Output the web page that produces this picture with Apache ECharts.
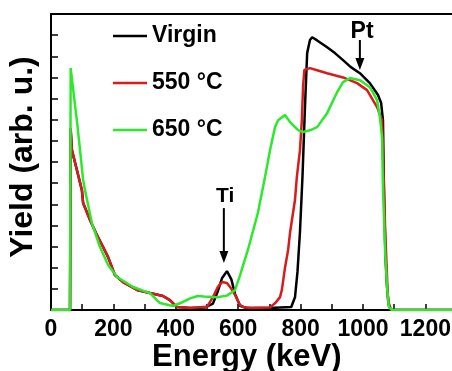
<!DOCTYPE html>
<html>
<head>
<meta charset="utf-8">
<script src="https://cdn.jsdelivr.net/npm/echarts@6/dist/echarts.min.js"></script>
<style>
html,body{margin:0;padding:0;background:#fff;}
#c{width:452px;height:371px;}
</style>
</head>
<body>
<div id="c"></div>
<script>
// Series names
const seriesNames = ['Virgin', '550 °C', '650 °C'];

// [Energy (keV), Yield (arb. u.)]
const virginData = [[0,0],[61,0],[63,8.55],[67,7.56],[83,6.62],[99,5.67],[103,5.06],[125,4.26],[147,3.55],[167,2.98],[183,2.5],[205,1.65],[231,1.32],[276,0.95],[317,0.8],[359,0.66],[381,0.47],[404,0.14],[446,0.09],[494,0.12],[519,0.3],[535,0.9],[548,1.5],[564,1.84],[578,1.45],[590,0.75],[606,0.2],[625,0.1],[700,0.1],[770,0.14],[782,0.6],[790,1.8],[798,3.7],[806,6.3],[814,9.6],[821,12.15],[830,12.77],[837,12.9],[853,12.75],[885,12.43],[910,12.15],[936,11.82],[960,11.5],[990,11.2],[1022,10.73],[1048,10.17],[1058,9.8],[1064,8.98],[1067,5.82],[1072,2.5],[1077,1.09],[1083,0.2],[1090,0],[1300,0]];

const c550Data = [[0,0],[61,0],[63,8.6],[67,7.56],[83,6.62],[99,5.67],[103,5.06],[125,4.26],[147,3.55],[167,2.98],[183,2.5],[205,1.65],[231,1.32],[276,0.95],[317,0.8],[359,0.66],[381,0.47],[404,0.14],[446,0.09],[500,0.15],[519,0.61],[535,1.1],[548,1.32],[564,1.28],[578,1.0],[590,0.71],[605,0.25],[615,0.14],[640,0.09],[702,0.12],[720,0.35],[734,0.61],[740,0.95],[750,2.0],[760,2.84],[766,3.64],[782,5.2],[788,6.3],[798,7.56],[804,8.98],[808,10.6],[812,11.35],[830,11.44],[850,11.35],[885,11.2],[936,11.0],[981,10.73],[1013,10.4],[1045,9.6],[1061,8.98],[1064,7.42],[1071,3.8],[1080,0.47],[1090,0],[1300,0]];

const c650Data = [[0,0],[61,0],[63,11.44],[85,8.7],[103,6.15],[109,5.67],[120,4.9],[131,4.11],[157,2.98],[183,2.13],[212,1.56],[263,1.09],[317,0.8],[349,0.33],[391,0.19],[423,0.38],[446,0.55],[470,0.66],[490,0.64],[532,0.6],[564,0.68],[590,0.95],[606,1.65],[631,2.84],[663,4.59],[686,6.29],[702,7.56],[718,8.65],[728,8.98],[750,9.22],[766,8.89],[792,8.51],[808,8.42],[830,8.5],[853,8.65],[885,9.31],[917,10.3],[936,10.78],[958,10.97],[990,10.87],[1022,10.54],[1045,9.93],[1054,9.13],[1061,8.18],[1064,5.82],[1071,2.7],[1077,1.09],[1083,0.14],[1093,0],[1300,0]];

// Annotations: label, text position [E, y], arrow start, arrow end
const annotations = [
  {text: 'Ti', pos: [558, 5.4], from: [554, 4.82], to: [554, 2.22], size: 21},
  {text: 'Pt', pos: [997, 13.15], from: [990, 12.77], to: [990, 11.35], size: 23}
];

const xTicks = {min: 0, max: 1300, interval: 100, labelStep: 200};
const yTicks = {min: 0, max: 14, interval: 1};

const colors = ['#000000', '#d81b1b', '#2ee82e'];
const FONT = 'Liberation Sans, Arial, sans-serif';

const chart = echarts.init(document.getElementById('c'), null, {renderer: 'canvas'});

const seriesData = [virginData, c550Data, c650Data];

chart.setOption({
  animation: false,
  backgroundColor: '#fff',
  grid: {left: 51, top: 14, right: -4.6, bottom: 61, containLabel: false, outerBoundsMode: 'none'},
  legend: {
    orient: 'vertical', left: 108, top: 18,
    icon: 'rect', itemWidth: 34, itemHeight: 2.5, itemGap: 21,
    textStyle: {fontFamily: FONT, fontWeight: 'bold', fontSize: 23, color: '#000', lineHeight: 26},
    data: seriesNames
  },
  xAxis: [{
    type: 'value', min: xTicks.min, max: xTicks.max, interval: xTicks.interval,
    name: 'Energy (keV)', nameLocation: 'middle', nameGap: 32, nameMoveOverlap: false,
    nameTextStyle: {fontFamily: FONT, fontWeight: 'bold', fontSize: 31, color: '#000', padding: [0, 14, 0, 0]},
    axisLine: {lineStyle: {color: '#000', width: 2}},
    axisTick: {inside: true, length: 6, lineStyle: {color: '#000', width: 1.5}},
    axisLabel: {fontFamily: FONT, fontWeight: 'bold', fontSize: 23, color: '#000', margin: 8,
      formatter: v => (v % xTicks.labelStep === 0 ? String(v) : '')},
    splitLine: {show: false}
  }, {
    type: 'value', position: 'top', min: xTicks.min, max: xTicks.max,
    axisLine: {show: true, lineStyle: {color: '#000', width: 2}},
    axisTick: {show: false}, axisLabel: {show: false}, splitLine: {show: false}
  }],
  yAxis: {
    type: 'value', min: yTicks.min, max: yTicks.max, interval: yTicks.interval,
    name: 'Yield (arb. u.)', nameLocation: 'middle', nameGap: 12, nameMoveOverlap: false,
    nameTextStyle: {fontFamily: FONT, fontWeight: 'bold', fontSize: 32, color: '#000', padding: [0, 0, 0, 10]},
    axisLine: {show: true, lineStyle: {color: '#000', width: 2}},
    axisTick: {inside: true, length: 7, lineStyle: {color: '#000', width: 1.5}},
    axisLabel: {show: false},
    splitLine: {show: false}
  },
  series: seriesNames.map((n, i) => ({
    name: n, type: 'line', data: seriesData[i],
    symbol: 'none', showSymbol: false,
    lineStyle: {color: colors[i], width: 2.5},
    itemStyle: {color: colors[i]},
    z: 2 + i
  }))
});

// Annotations drawn from data coordinates
const graphics = [];
annotations.forEach(a => {
  const p = chart.convertToPixel({gridIndex: 0}, a.pos);
  const f = chart.convertToPixel({gridIndex: 0}, a.from);
  const t = chart.convertToPixel({gridIndex: 0}, a.to);
  graphics.push({
    type: 'text', x: p[0], y: p[1], z: 20,
    style: {text: a.text, fontFamily: FONT, fontWeight: 'bold', fontSize: a.size, fill: '#000',
      align: 'center', verticalAlign: 'middle'}
  });
  graphics.push({
    type: 'line', z: 20,
    shape: {x1: f[0], y1: f[1], x2: t[0], y2: t[1] - 8},
    style: {stroke: '#000', lineWidth: 2}
  });
  graphics.push({
    type: 'polygon', z: 20,
    shape: {points: [[t[0] - 4.5, t[1] - 12], [t[0] + 4.5, t[1] - 12], [t[0], t[1]]]},
    style: {fill: '#000'}
  });
});
chart.setOption({graphic: graphics});
</script>
</body>
</html>
